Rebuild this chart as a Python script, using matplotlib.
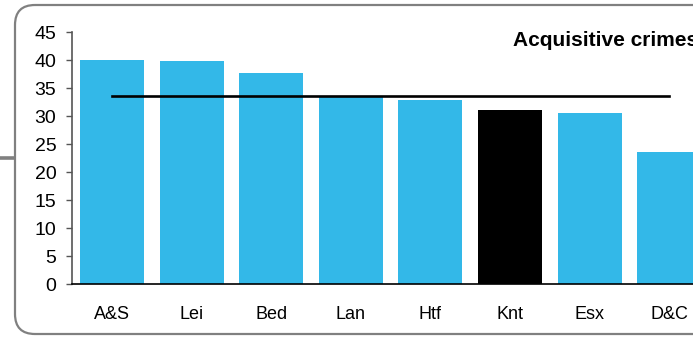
import matplotlib
matplotlib.use("Agg")
import matplotlib.pyplot as plt
from matplotlib.patches import FancyBboxPatch

# data
areas = ["A&S", "Lei", "Bed", "Lan", "Htf", "Knt", "Esx", "D&C"]
rates = [40.0, 39.8, 37.7, 33.4, 32.9, 31.1, 30.6, 23.6]
average = [33.6] * len(areas)
highlight = "Knt"
yticks = [0, 5, 10, 15, 20, 25, 30, 35, 40, 45]

plt.rcParams['font.family'] = ['Liberation Sans', 'DejaVu Sans']

W, H = 693, 337
fig = plt.figure(figsize=(W / 100, H / 100), dpi=100)

# background layer in pixel units for the rounded frame
bg = fig.add_axes([0, 0, 1, 1], zorder=0)
bg.set_xlim(0, W)
bg.set_ylim(H, 0)
bg.axis("off")
frame = FancyBboxPatch((15, 5), 700, 329, boxstyle="round,pad=0,rounding_size=20",
                       fill=False, edgecolor="#808080", linewidth=1.6)
bg.add_patch(frame)
bg.plot([0, 15], [158, 158], color="#808080", linewidth=2.6, solid_capstyle="butt")

# main chart, runs past the right edge like the original crop
ax = fig.add_axes([72.3 / W, 52.7 / H, 636.6 / W, 252.0 / H], zorder=1)
ax.patch.set_alpha(0)
x = list(range(len(areas)))
colors = ["black" if a == highlight else "#33B8E8" for a in areas]
ax.bar(x, rates, width=0.805, color=colors, zorder=2)
ax.plot(x, average, color="black", linewidth=1.9, zorder=3)

ax.set_xlim(-0.5, len(areas) - 0.5)
ax.set_ylim(0, 45)
ax.set_yticks(yticks)
ax.set_xticks(x)
ax.set_xticklabels(areas)
ax.tick_params(axis="y", length=4.5, width=1, color="#555555", pad=7, labelsize=14)
ax.tick_params(axis="x", length=0, pad=15.5, labelsize=13)
for s in ["top", "right"]:
    ax.spines[s].set_visible(False)
ax.spines["left"].set_color("#555555")
ax.spines["left"].set_linewidth(1.2)
ax.spines["bottom"].set_color("black")
ax.spines["bottom"].set_linewidth(1.2)

# title sits partly past the right edge, as in the cropped original
fig.text(513 / W, 1 - 46.5 / H, "Acquisitive crimes", fontsize=15, fontweight="bold",
         ha="left", va="baseline")

fig.savefig("out.png", dpi=100)
